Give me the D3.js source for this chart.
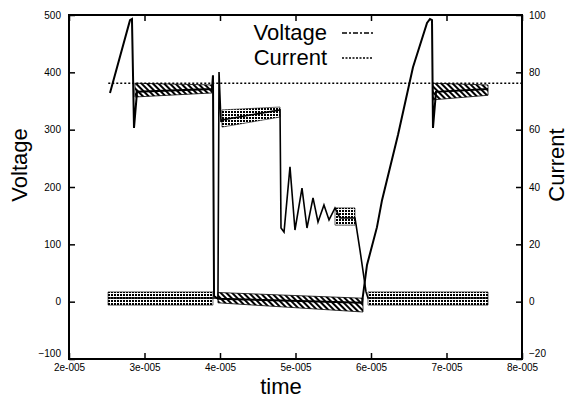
<!DOCTYPE html>
<html>
<head>
<meta charset="utf-8">
<script src="https://cdn.jsdelivr.net/npm/d3@7"></script>
<style>
  body { margin: 0; background: #fff; }
  svg { display: block; font-family: "Liberation Sans", Arial, sans-serif; }
</style>
</head>
<body>
<div class="chart"></div>
<script>
// axis ticks
const timeTicks = [2e-5, 3e-5, 4e-5, 5e-5, 6e-5, 7e-5, 8e-5]
const timeLabels = ['2e-005', '3e-005', '4e-005', '5e-005', '6e-005', '7e-005', '8e-005']
const voltTicks = [-100, 0, 100, 200, 300, 400, 500]
const currTicks = [-20, 0, 20, 40, 60, 80, 100]

// voltage trace [time, V]
const voltage = [
  [2.543e-5, 364], [2.808e-5, 491], [2.834e-5, 493], [2.861e-5, 303], [2.901e-5, 366],
  [3.894e-5, 371], [3.907e-5, 395], [3.921e-5, 10], [3.973e-5, 5], [5.881e-5, -2],
  [5.947e-5, 64], [6.079e-5, 130], [6.146e-5, 177], [6.358e-5, 291], [6.556e-5, 409],
  [6.742e-5, 486], [6.781e-5, 493], [6.808e-5, 491], [6.821e-5, 303], [6.861e-5, 366],
  [7.550e-5, 371]
]
// voltage ringing envelopes [time, low, high]
const voltRing1 = [[2.874e-5, 357, 381], [3.894e-5, 364, 378]]
const voltRing2 = [[3.973e-5, -2, 16], [5.894e-5, -18, 6]]
const voltRing3 = [[6.821e-5, 352, 381], [7.550e-5, 360, 378]]

// current trace [time, A]
const current = [
  [2.517e-5, 1.3], [3.907e-5, 1.3], [3.973e-5, 1.3], [3.987e-5, 80.1], [4.013e-5, 62.7],
  [4.026e-5, 63.4], [4.795e-5, 66.9], [4.808e-5, 25.7], [4.848e-5, 24.3], [4.927e-5, 47.0],
  [4.993e-5, 25.0], [5.086e-5, 39.6], [5.152e-5, 25.7], [5.232e-5, 36.2], [5.298e-5, 27.8],
  [5.377e-5, 33.7], [5.444e-5, 28.5], [5.523e-5, 32.7], [5.589e-5, 29.2], [5.788e-5, 29.2],
  [5.854e-5, 18.0], [5.934e-5, 3.4], [5.960e-5, 1.3], [7.550e-5, 1.3]
]
// current ripple envelopes [time, low, high]
const currRip1 = [[2.517e-5, -1.2, 3.4], [3.907e-5, -1.2, 3.4]]
const currRip2 = [[4.026e-5, 60.9, 66.9], [4.795e-5, 64.4, 67.9]]
const currRip3 = [[5.523e-5, 26.7, 32.7], [5.788e-5, 26.7, 32.7]]
const currRip4 = [[5.960e-5, -1.2, 3.4], [7.550e-5, -1.2, 3.4]]

// dotted level line [time, V]
const levelLine = [[2.52e-5, 381], [8e-5, 381]]

const width = 571
const height = 399
const plotLeft = 69, plotRight = 522, plotTop = 15, plotBottom = 359

const x = d3.scaleLinear().domain([2e-5, 8e-5]).range([plotLeft, plotRight])
const yV = d3.scaleLinear().domain([-100, 500]).range([plotBottom, plotTop])
const yI = d3.scaleLinear().domain([-20, 100]).range([plotBottom, plotTop])

const svg = d3.select('.chart').append('svg')
  .attr('width', width)
  .attr('height', height)

const defs = svg.append('defs')
const hatch = defs.append('pattern')
  .attr('id', 'hatch')
  .attr('patternUnits', 'userSpaceOnUse')
  .attr('width', 4).attr('height', 4)
  .attr('patternTransform', 'rotate(-45)')
hatch.append('rect').attr('width', 4).attr('height', 4).attr('fill', '#fff')
hatch.append('rect').attr('width', 2).attr('height', 4).attr('fill', '#000')

const checker = defs.append('pattern')
  .attr('id', 'checker')
  .attr('patternUnits', 'userSpaceOnUse')
  .attr('width', 3).attr('height', 3)
checker.append('rect').attr('width', 3).attr('height', 3).attr('fill', '#fff')
checker.append('rect').attr('width', 2).attr('height', 2).attr('fill', '#000')

const plot = svg.append('g')

// ripple bands
const bandV = d3.area().x(d => x(d[0])).y0(d => yV(d[1])).y1(d => yV(d[2]))
const bandI = d3.area().x(d => x(d[0])).y0(d => yI(d[1])).y1(d => yI(d[2]))

;[voltRing1, voltRing2, voltRing3].forEach(b => {
  plot.append('path').attr('d', bandV(b)).attr('fill', 'url(#hatch)')
    .attr('stroke', '#000').attr('stroke-width', 0.8)
})
;[currRip1, currRip2, currRip3, currRip4].forEach(b => {
  plot.append('path').attr('d', bandI(b)).attr('fill', 'url(#checker)')
    .attr('stroke', '#000').attr('stroke-width', 0.6)
})

// level line
plot.append('path')
  .attr('d', d3.line().x(d => x(d[0])).y(d => yV(d[1]))(levelLine))
  .attr('fill', 'none').attr('stroke', '#000')
  .attr('stroke-width', 1.4).attr('stroke-dasharray', '2,2')

// traces
plot.append('path')
  .attr('d', d3.line().x(d => x(d[0])).y(d => yI(d[1]))(current))
  .attr('fill', 'none').attr('stroke', '#000').attr('stroke-width', 1.6)

plot.append('path')
  .attr('d', d3.line().x(d => x(d[0])).y(d => yV(d[1]))(voltage))
  .attr('fill', 'none').attr('stroke', '#000').attr('stroke-width', 2)

// axes
const styleAxis = g => {
  g.select('.domain').remove()
  g.selectAll('line').attr('stroke', '#000').attr('stroke-width', 1.5)
  g.selectAll('text').attr('font-size', 10).attr('fill', '#000')
    .attr('font-family', '"Liberation Sans", Arial, sans-serif')
}

// lowest y labels sit a bit higher so they clear the time labels
const liftBottom = g => {
  g.selectAll('.tick text').filter((d, i) => i === 0).attr('y', -6)
}

svg.append('g').attr('transform', `translate(${plotLeft},0)`)
  .call(d3.axisLeft(yV).tickValues(voltTicks).tickSize(-6).tickPadding(8))
  .call(styleAxis)
  .call(liftBottom)

svg.append('g').attr('transform', `translate(${plotRight},0)`)
  .call(d3.axisRight(yI).tickValues(currTicks).tickSize(-6).tickPadding(7))
  .call(styleAxis)
  .call(liftBottom)

svg.append('g').attr('transform', `translate(0,${plotBottom})`)
  .call(d3.axisBottom(x).tickValues(timeTicks).tickSize(-6).tickPadding(5)
    .tickFormat((d, i) => timeLabels[i]))
  .call(styleAxis)

svg.append('g').attr('transform', `translate(0,${plotTop})`)
  .call(d3.axisTop(x).tickValues(timeTicks).tickSize(-6).tickFormat(''))
  .call(styleAxis)

// frame
svg.append('rect')
  .attr('x', plotLeft).attr('y', plotTop)
  .attr('width', plotRight - plotLeft).attr('height', plotBottom - plotTop)
  .attr('fill', 'none').attr('stroke', '#000').attr('stroke-width', 2)

// axis titles
svg.append('text')
  .attr('transform', 'translate(27,165) rotate(-90)')
  .attr('text-anchor', 'middle').attr('font-size', 22)
  .text('Voltage')

svg.append('text')
  .attr('transform', 'translate(564,165) rotate(-90)')
  .attr('text-anchor', 'middle').attr('font-size', 22)
  .text('Current')

svg.append('text')
  .attr('x', 281).attr('y', 394)
  .attr('text-anchor', 'middle').attr('font-size', 22)
  .text('time')

// legend
const legend = svg.append('g')
const legendItems = [
  { name: 'Voltage', y: 40, dash: '5,2,2,2' },
  { name: 'Current', y: 65, dash: '2,1.5' }
]
legendItems.forEach(d => {
  legend.append('text')
    .attr('x', 327).attr('y', d.y)
    .attr('text-anchor', 'end').attr('font-size', 22)
    .text(d.name)
  legend.append('line')
    .attr('x1', 342).attr('x2', 373)
    .attr('y1', d.y - 7).attr('y2', d.y - 7)
    .attr('stroke', '#000').attr('stroke-width', 1.4)
    .attr('stroke-dasharray', d.dash)
})
</script>
</body>
</html>
